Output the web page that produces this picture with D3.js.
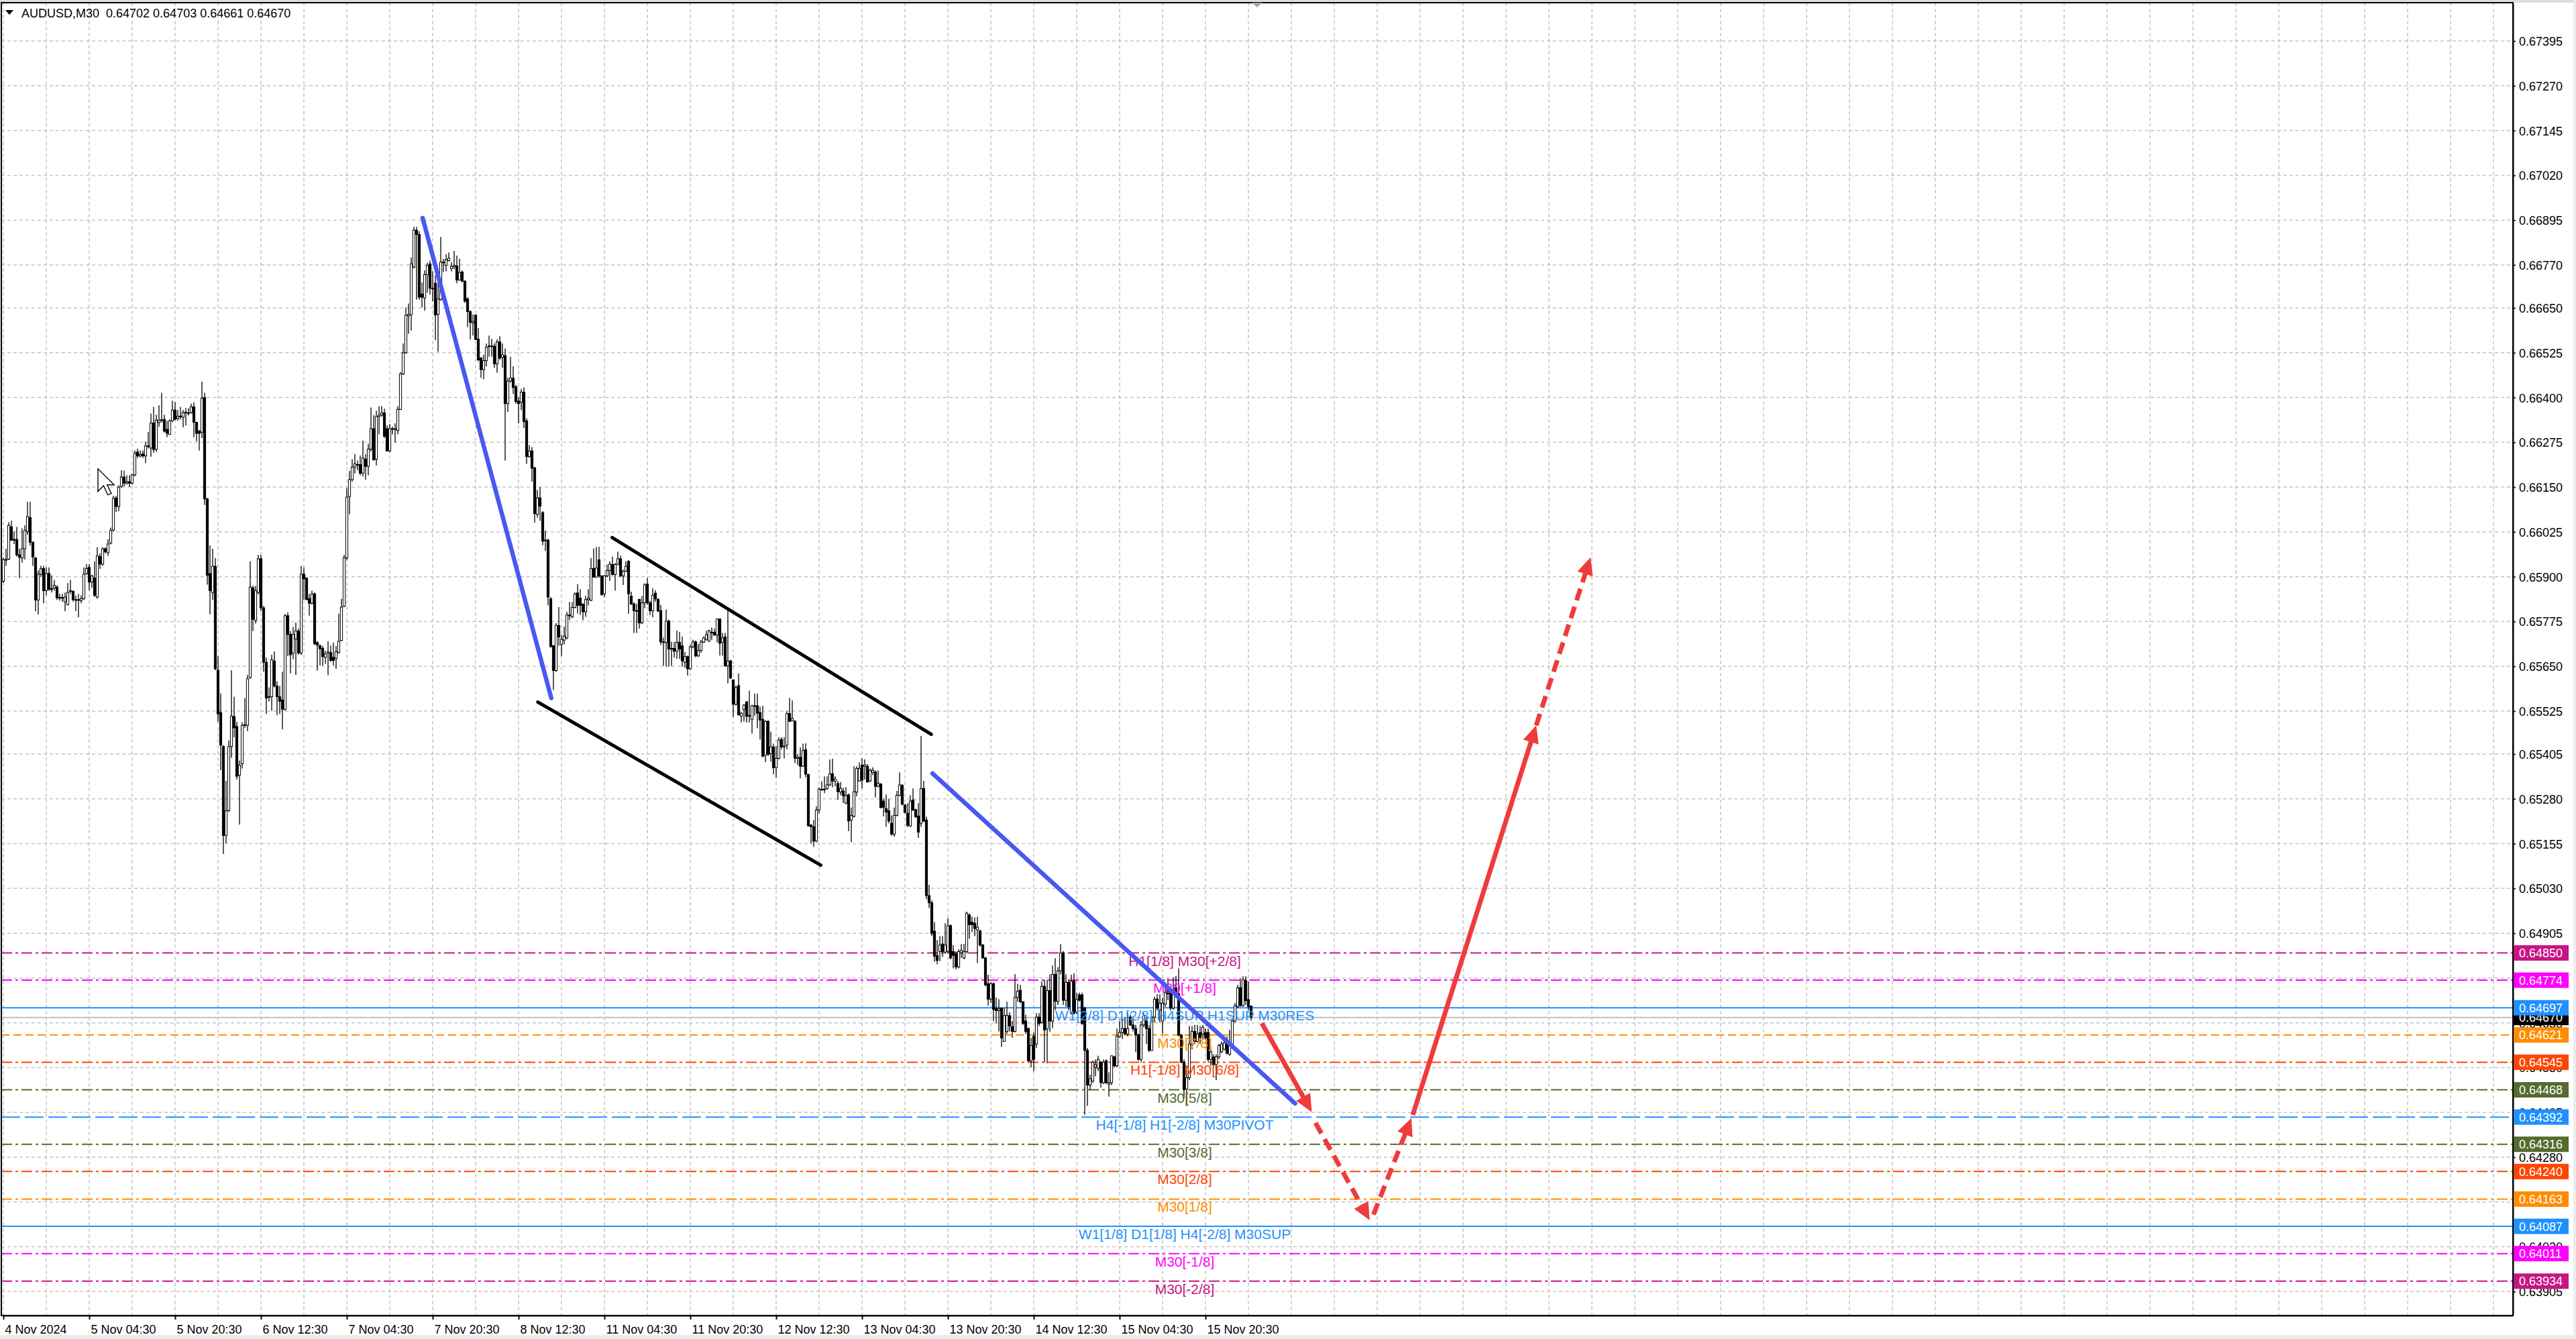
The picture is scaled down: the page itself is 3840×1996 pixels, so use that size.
<!DOCTYPE html>
<html><head><meta charset="utf-8">
<script src="https://cdn.jsdelivr.net/npm/d3@7/dist/d3.min.js"></script>
<style>html,body{margin:0;padding:0;background:#fff;overflow:hidden}svg{display:block}</style>
</head><body>
<svg id="chart" width="3840" height="1996"></svg>
<script>
// ---------------- data ----------------
const chartTitle = "AUDUSD,M30  0.64702 0.64703 0.64661 0.64670";
const timeLabels = ["4 Nov 2024","5 Nov 04:30","5 Nov 20:30","6 Nov 12:30","7 Nov 04:30","7 Nov 20:30","8 Nov 12:30","11 Nov 04:30","11 Nov 20:30","12 Nov 12:30","13 Nov 04:30","13 Nov 20:30","14 Nov 12:30","15 Nov 04:30","15 Nov 20:30"];
const timeLabelBars = [0,32,64,96,128,160,192,224,256,288,320,352,384,416,448];
const priceTicks = [0.67395,0.67270,0.67145,0.67020,0.66895,0.66770,0.66650,0.66525,0.66400,0.66275,0.66150,0.66025,0.65900,0.65775,0.65650,0.65525,0.65405,0.65280,0.65155,0.65030,0.64905,0.64780,0.64655,0.64530,0.64405,0.64280,0.64155,0.64030,0.63905];
// M30 bars: [open, high, low, close] in points (1e-5)
const ohlc = [
[65887,65953,65883,65948],[65948,65978,65930,65946],[65949,66052,65946,66043],[66039,66056,66000,66002],[66004,66026,65991,66002],[66004,66039,65956,65961],[65961,65978,65896,65954],[65952,66035,65939,65978],
[65978,66043,65948,66029],[66026,66109,66017,66068],[66065,66109,65987,65996],[65996,65998,65930,65955],[65952,65955,65804,65835],[65835,65917,65795,65907],[65907,65930,65900,65922],[65923,65930,65826,65861],
[65861,65926,65848,65909],[65909,65926,65860,65865],[65867,65904,65856,65864],[65869,65891,65861,65876],[65871,65876,65835,65841],[65842,65852,65833,65841],[65841,65852,65830,65842],[65830,65856,65804,65843],
[65822,65882,65820,65856],[65860,65891,65852,65861],[65859,65862,65830,65836],[65836,65848,65804,65835],[65835,65852,65787,65836],[65833,65848,65826,65839],[65839,65926,65835,65907],[65909,65935,65905,65923],
[65926,65935,65862,65885],[65885,65905,65869,65902],[65896,65943,65843,65848],[65843,65982,65839,65958],[65956,65965,65922,65935],[65935,65982,65930,65978],[65978,65982,65965,65970],[65967,66004,65958,65991],
[65994,66037,65990,66029],[66030,66126,66026,66119],[66119,66126,66081,66096],[66096,66155,66083,66150],[66152,66197,66148,66178],[66178,66196,66152,66161],[66161,66183,66157,66165],[66165,66183,66150,66161],
[66161,66187,66157,66184],[66184,66252,66180,66245],[66248,66257,66231,66237],[66237,66252,66233,66241],[66243,66252,66231,66237],[66237,66277,66217,66265],[66265,66304,66258,66264],[66259,66355,66235,66329],
[66329,66374,66245,66255],[66255,66352,66248,66337],[66330,66378,66318,66337],[66337,66413,66330,66338],[66339,66352,66303,66306],[66311,66335,66289,66300],[66297,66339,66296,66335],[66335,66391,66332,66365],
[66365,66387,66337,66339],[66342,66365,66335,66348],[66348,66374,66339,66348],[66345,66365,66317,66358],[66358,66370,66322,66359],[66357,66370,66350,66357],[66358,66383,66355,66374],[66374,66387,66289,66331],
[66331,66332,66278,66300],[66306,66310,66252,66300],[66303,66444,66287,66398],[66400,66413,66100,66117],[66117,66120,65878,65904],[65909,65987,65795,65861],[65856,65978,65835,65929],[65929,65952,65639,65643],
[65639,65678,65495,65517],[65521,65574,65360,65430],[65426,65430,65126,65178],[65178,65330,65156,65247],[65247,65443,65243,65426],[65426,65639,65395,65511],[65510,65565,65452,65478],[65482,65495,65334,65343],
[65346,65387,65208,65374],[65378,65494,65365,65485],[65487,65561,65478,65487],[65485,65626,65469,65615],[65619,65943,65615,65871],[65869,65875,65748,65781],[65778,65874,65769,65861],[65856,65961,65850,65950],
[65950,65961,65804,65813],[65813,65819,65635,65661],[65661,65674,65517,65561],[65565,65591,65552,65565],[65565,65682,65526,65668],[65665,65691,65591,65595],[65595,65608,65513,65565],[65565,65595,65517,65552],
[65556,65635,65474,65530],[65530,65796,65526,65791],[65791,65800,65678,65739],[65739,65748,65630,65682],[65687,65760,65670,65739],[65726,65772,65626,65749],[65748,65755,65682,65687],[65687,65930,65682,65907],
[65907,65926,65835,65894],[65896,65898,65835,65836],[65839,65852,65791,65826],[65826,65861,65822,65852],[65852,65856,65709,65713],[65716,65720,65638,65709],[65707,65711,65652,65699],[65700,65707,65652,65677],
[65675,65693,65657,65684],[65687,65720,65625,65690],[65688,65708,65663,65666],[65675,65716,65652,65666],[65672,65707,65643,65691],[65688,65797,65686,65720],[65722,65838,65720,65815],[65817,65961,65815,65953],
[65952,66147,65947,66122],[66124,66195,66074,66171],[66171,66228,66165,66206],[66206,66242,66188,66215],[66213,66224,66197,66213],[66213,66238,66183,66189],[66189,66280,66179,66231],[66228,66242,66171,66208],
[66208,66271,66183,66256],[66256,66372,66249,66313],[66313,66351,66224,66226],[66228,66363,66210,66347],[66347,66376,66297,66351],[66351,66376,66347,66357],[66357,66369,66287,66292],[66313,66322,66249,66251],
[66251,66326,66247,66313],[66313,66319,66297,66313],[66313,66328,66274,66311],[66308,66376,66297,66367],[66367,66471,66365,66466],[66466,66551,66463,66525],[66525,66651,66522,66630],[66628,66662,66578,66632],
[66631,66791,66587,66773],[66764,66876,66760,66867],[66867,66876,66673,66855],[66855,66864,66673,66680],[66689,66721,66651,66680],[66678,66755,66642,66743],[66743,66776,66692,66769],[66773,66782,66687,66705],
[66705,66752,66669,66705],[66719,66741,66560,66630],[66632,66728,66528,66675],[66673,66848,66670,66778],[66778,66787,66750,66777],[66769,66800,66752,66785],[66782,66805,66780,66789],[66760,66778,66752,66766],
[66765,66809,66758,66769],[66767,66796,66719,66728],[66728,66787,66726,66749],[66750,66755,66721,66725],[66725,66727,66664,66669],[66675,66680,66596,66640],[66640,66643,66562,66610],[66608,66632,66573,66612],
[66630,66632,66560,66562],[66563,66594,66501,66505],[66510,66513,66455,66478],[66478,66519,66451,66503],[66503,66551,66487,66540],[66542,66573,66514,66544],[66544,66564,66514,66543],[66543,66551,66483,66494],
[66494,66562,66469,66555],[66555,66571,66505,66510],[66512,66551,66483,66519],[66517,66537,66224,66383],[66383,66456,66360,66446],[66446,66514,66442,66454],[66454,66487,66410,66428],[66430,66435,66383,66389],
[66390,66401,66328,66383],[66387,66424,66365,66415],[66415,66428,66315,66333],[66335,66342,66215,66235],[66235,66267,66232,66251],[66251,66262,66165,66203],[66204,66206,66051,66076],[66074,66142,66065,66120],
[66120,66150,66056,66097],[66079,66083,65988,65999],[66002,66029,65972,66002],[66002,66006,65820,65843],[65838,65843,65702,65705],[65707,65710,65584,65638],[65638,65770,65634,65764],[65764,65815,65707,65732],
[65711,65738,65679,65725],[65723,65761,65711,65734],[65729,65802,65725,65793],[65793,65829,65779,65793],[65788,65829,65784,65814],[65814,65856,65812,65852],[65855,65879,65797,65820],[65840,65865,65793,65820],
[65823,65826,65779,65802],[65802,65847,65788,65836],[65836,65865,65820,65840],[65834,65952,65832,65923],[65923,65979,65897,65899],[65899,65983,65897,65924],[65947,65983,65897,65902],[65902,65904,65847,65850],
[65852,65905,65843,65902],[65902,65934,65899,65917],[65917,65943,65888,65935],[65934,65956,65903,65906],[65906,65938,65861,65934],[65935,65970,65932,65950],[65950,65959,65899,65902],[65902,65920,65877,65915],
[65915,65943,65913,65929],[65943,65946,65797,65852],[65846,65858,65821,65824],[65824,65828,65743,65805],[65805,65824,65743,65804],[65837,65837,65755,65771],[65771,65846,65768,65827],[65827,65882,65812,65877],
[65879,65896,65821,65827],[65827,65833,65793,65805],[65805,65868,65787,65848],[65854,65862,65830,65838],[65837,65840,65802,65804],[65805,65821,65709,65718],[65718,65730,65651,65716],[65716,65808,65649,65776],
[65776,65780,65649,65698],[65698,65718,65651,65700],[65700,65718,65674,65692],[65692,65750,65671,65717],[65717,65746,65671,65698],[65707,65733,65649,65665],[65661,65690,65646,65677],[65677,65680,65624,65643],
[65643,65710,65640,65704],[65704,65724,65700,65718],[65718,65722,65675,65679],[65679,65712,65676,65694],[65694,65724,65688,65718],[65717,65733,65715,65729],[65724,65749,65722,65738],[65720,65752,65718,65749],
[65745,65758,65724,65745],[65745,65755,65735,65737],[65737,65783,65717,65782],[65782,65783,65680,65714],[65717,65743,65680,65729],[65732,65743,65649,65651],[65651,65808,65602,65665],[65665,65668,65615,65617],
[65612,65612,65509,65544],[65544,65596,65540,65591],[65596,65630,65512,65515],[65511,65522,65493,65519],[65529,65544,65496,65542],[65551,65552,65493,65510],[65513,65582,65493,65513],[65502,65542,65462,65540],
[65540,65574,65512,65540],[65540,65574,65477,65519],[65521,65537,65446,65500],[65502,65540,65396,65399],[65402,65500,65382,65496],[65496,65500,65400,65404],[65406,65468,65384,65425],[65425,65434,65349,65367],
[65367,65427,65340,65393],[65393,65452,65390,65444],[65446,65452,65418,65425],[65427,65452,65393,65427],[65430,65525,65418,65518],[65518,65562,65496,65496],[65498,65555,65496,65504],[65497,65499,65380,65393],
[65393,65405,65374,65396],[65396,65424,65337,65371],[65371,65434,65369,65415],[65417,65435,65340,65349],[65348,65350,65202,65205],[65207,65209,65155,65202],[65202,65221,65146,65162],[65162,65259,65159,65249],
[65249,65312,65240,65307],[65307,65329,65302,65307],[65307,65343,65296,65307],[65309,65343,65305,65319],[65319,65390,65316,65350],[65350,65392,65312,65330],[65329,65343,65315,65335],[65323,65330,65277,65300],
[65299,65327,65290,65309],[65302,65311,65268,65288],[65268,65313,65265,65290],[65291,65295,65190,65218],[65221,65256,65159,65234],[65231,65371,65228,65300],[65299,65371,65287,65365],[65330,65382,65328,65365],
[65374,65393,65309,65332],[65371,65390,65334,65375],[65371,65377,65325,65327],[65330,65365,65327,65360],[65354,65368,65346,65360],[65355,65359,65284,65315],[65315,65359,65312,65324],[65321,65324,65253,65256],
[65274,65280,65231,65256],[65253,65292,65202,65243],[65247,65280,65212,65218],[65212,65234,65177,65182],[65181,65256,65174,65234],[65234,65302,65231,65290],[65290,65354,65287,65319],[65318,65321,65262,65265],
[65263,65265,65240,65242],[65240,65268,65202,65206],[65204,65290,65202,65274],[65277,65309,65246,65249],[65250,65252,65227,65230],[65232,65268,65171,65187],[65212,65455,65202,65309],[65309,65330,65215,65218],
[65221,65230,65000,65010],[65010,65040,64975,64990],[64990,64997,64897,64904],[64911,64936,64825,64841],[64843,64886,64818,64829],[64854,64897,64827,64872],[64875,64897,64839,64854],[64852,64933,64847,64872],
[64854,64947,64850,64926],[64926,64930,64832,64836],[64854,64872,64807,64843],[64847,64854,64804,64811],[64811,64861,64807,64854],[64850,64875,64836,64857],[64836,64875,64832,64854],[64854,64965,64850,64961],
[64956,64960,64890,64929],[64936,64951,64908,64929],[64933,64949,64897,64918],[64914,64951,64822,64922],[64911,64915,64868,64872],[64872,64875,64834,64836],[64836,64839,64757,64761],[64764,64789,64703,64721],
[64721,64768,64710,64764],[64764,64768,64660,64692],[64696,64725,64653,64689],[64689,64721,64631,64694],[64696,64696,64588,64613],[64603,64696,64603,64675],[64631,64714,64624,64676],[64675,64685,64631,64646],
[64644,64660,64613,64631],[64631,64791,64628,64726],[64726,64764,64714,64743],[64746,64761,64710,64714],[64714,64714,64649,64653],[64660,64678,64624,64631],[64639,64642,64545,64549],[64549,64613,64531,64592],
[64617,64628,64520,64553],[64596,64682,64585,64671],[64671,64682,64646,64653],[64656,64771,64653,64757],[64757,64775,64545,64635],[64638,64775,64542,64745],[64745,64790,64630,64660],[64660,64815,64640,64790],
[64790,64835,64690,64715],[64715,64810,64705,64800],[64800,64875,64790,64850],[64850,64855,64705,64718],[64718,64790,64700,64768],[64768,64775,64690,64700],[64682,64789,64678,64771],[64771,64793,64678,64682],
[64685,64739,64680,64720],[64733,64739,64714,64718],[64733,64739,64649,64653],[64696,64700,64398,64578],[64578,64585,64423,64481],[64481,64510,64467,64499],[64492,64549,64488,64545],[64531,64553,64506,64538],
[64528,64563,64520,64553],[64545,64549,64474,64488],[64488,64553,64484,64545],[64549,64553,64484,64488],[64484,64517,64449,64488],[64488,64563,64481,64563],[64560,64563,64531,64535],[64535,64639,64531,64617],
[64617,64660,64613,64628],[64628,64667,64610,64639],[64639,64671,64621,64624],[64624,64682,64617,64639],[64671,64678,64646,64649],[64649,64667,64631,64639],[64639,64649,64574,64621],[64621,64625,64549,64553],
[64553,64660,64545,64649],[64649,64682,64642,64674],[64660,64671,64596,64639],[64639,64649,64574,64578],[64578,64674,64578,64671],[64671,64728,64656,64721],[64721,64735,64689,64696],[64690,64735,64656,64710],
[64660,64725,64624,64710],[64707,64768,64700,64739],[64750,64779,64718,64736],[64739,64753,64689,64696],[64696,64782,64692,64746],[64753,64786,64725,64736],[64736,64807,64617,64621],[64621,64624,64542,64545],
[64545,64553,64445,64470],[64470,64524,64423,64502],[64502,64646,64495,64596],[64592,64646,64581,64631],[64631,64649,64596,64603],[64603,64649,64600,64624],[64628,64646,64596,64613],[64624,64649,64610,64642],
[64628,64639,64606,64613],[64628,64639,64545,64553],[64553,64588,64535,64574],[64560,64567,64531,64538],[64538,64567,64495,64560],[64560,64596,64553,64592],[64574,64603,64570,64596],[64581,64613,64578,64599],
[64596,64617,64567,64570],[64567,64635,64563,64596],[64596,64667,64592,64660],[64660,64710,64656,64703],[64700,64761,64696,64753],[64753,64779,64700,64703],[64703,64785,64700,64775],[64773,64785,64705,64717],
[64720,64770,64690,64700],[64702,64703,64661,64670]
];
const levelPrices = [0.64850,0.64774,0.64697,0.64621,0.64545,0.64468,0.64392,0.64316,0.64240,0.64163,0.64087,0.64011,0.63934];
const levelNames = ["H1[1/8] M30[+2/8]","M30[+1/8]","W1[2/8] D1[2/8] H4SUP H1SUP M30RES","M30[7/8]","H1[-1/8] M30[6/8]","M30[5/8]","H4[-1/8] H1[-2/8] M30PIVOT","M30[3/8]","M30[2/8]","M30[1/8]","W1[1/8] D1[1/8] H4[-2/8] M30SUP","M30[-1/8]","M30[-2/8]"];
const bidPrice = 0.64670;
// drawn objects: endpoints as [bar index, price]
const blueLines = [[[156.25,0.66901],[204.2,0.65561]],[[346.25,0.65351],[481.4,0.64430]]];
const channelLines = [[[226.9,0.66009],[345.8,0.65460]],[[199.2,0.65550],[304.6,0.65095]]];
const redArrows = [
  {from:[469,0.64654], to:[487.6,0.64406], dashed:false},
  {from:[489,0.64376], to:[509.2,0.64104], dashed:true},
  {from:[510.6,0.64120], to:[524.75,0.64389], dashed:true},
  {from:[525.25,0.64398], to:[571.25,0.65485], dashed:false},
  {from:[571.25,0.65485], to:[591.5,0.65954], dashed:true}
];
const cursorAt = [35.25, 0.66201];
// ---------------- styles ----------------
const levelColors = ["#C71585","#FF00FF","#1E90FF","#FF8C00","#FF4500","#556B2F","#1E90FF","#556B2F","#FF4500","#FF8C00","#1E90FF","#FF00FF","#C71585"];
const levelDash = ["16,5,4,5","16,5,4,5",null,"12,6","16,5,4,5","16,5,4,5","28,7","16,5,4,5","16,5,4,5","16,5,4,5",null,"16,5,4,5","16,5,4,5"];
const FONT = "'Liberation Sans', Arial, sans-serif";

// ---------------- drawing ----------------
const W = 3840, H = 1996;
const plotL = 2, plotT = 4, plotR = 3746, plotB = 1961;
const svg = d3.select("#chart");
const x = d3.scaleLinear().domain([0, 935.25]).range([5, 3746]);
const y = d3.scaleLinear().domain([0.63840, 0.675]).range([1960, 5]);

svg.append("rect").attr("width", W).attr("height", H).attr("fill", "#ffffff");
// window chrome
svg.append("rect").attr("x",0).attr("y",0).attr("width",W).attr("height",plotT).attr("fill","#dcdcdc");
svg.append("rect").attr("x",0).attr("y",1990).attr("width",W).attr("height",6).attr("fill","#ececec");
svg.append("rect").attr("x",3836).attr("y",0).attr("width",4).attr("height",H).attr("fill","#ececec");

const defs = svg.append("defs");
defs.append("clipPath").attr("id","plotclip").append("rect")
  .attr("x",plotL).attr("y",plotT).attr("width",plotR-plotL).attr("height",plotB-plotT);

const plot = svg.append("g").attr("clip-path","url(#plotclip)");

// grid
const gridX = d3.range(0, 935, 16);
plot.append("g").selectAll("line").data(gridX).join("line")
  .attr("x1", d => x(d)).attr("x2", d => x(d)).attr("y1", plotT).attr("y2", plotB)
  .attr("stroke", "#c4c4c4").attr("stroke-width", 1.5).attr("stroke-dasharray", "5,4");
plot.append("g").selectAll("line").data(priceTicks).join("line")
  .attr("x1", plotL).attr("x2", plotR).attr("y1", d => y(d)).attr("y2", d => y(d))
  .attr("stroke", "#c4c4c4").attr("stroke-width", 1.5).attr("stroke-dasharray", "5,4");

// level lines
plot.append("g").selectAll("line").data(levelPrices).join("line")
  .attr("x1", plotL).attr("x2", plotR).attr("y1", d => y(d)).attr("y2", d => y(d))
  .attr("stroke", (d,i) => levelColors[i]).attr("stroke-width", 2)
  .attr("stroke-dasharray", (d,i) => levelDash[i]);
// bid line
plot.append("line").attr("x1", plotL).attr("x2", plotR).attr("y1", y(bidPrice)).attr("y2", y(bidPrice))
  .attr("stroke", "#c0c0c0").attr("stroke-width", 2);

// candles
const bars = ohlc.map((d, i) => ({ i, o: d[0]/1e5, h: Math.max(d[0],d[1],d[3])/1e5, l: Math.min(d[0],d[2],d[3])/1e5, c: d[3]/1e5 }));
const cg = plot.append("g");
cg.selectAll("line").data(bars).join("line")
  .attr("x1", d => x(d.i)).attr("x2", d => x(d.i))
  .attr("y1", d => y(d.h)).attr("y2", d => y(d.l))
  .attr("stroke", "#000").attr("stroke-width", 1.3);
cg.selectAll("rect").data(bars).join("rect")
  .attr("x", d => x(d.i) - 1.6).attr("width", 3.2)
  .attr("y", d => y(Math.max(d.o, d.c)))
  .attr("height", d => Math.max(1, Math.abs(y(d.o) - y(d.c))))
  .attr("fill", d => d.c >= d.o ? "#ffffff" : "#000000")
  .attr("stroke", "#000").attr("stroke-width", 1);

// level labels
plot.append("g").selectAll("text").data(levelPrices).join("text")
  .attr("x", x(440.25)).attr("y", d => y(d) + 19)
  .attr("text-anchor", "middle").attr("font-family", FONT).attr("font-size", 21)
  .attr("fill", (d,i) => levelColors[i]).text((d,i) => levelNames[i]);

// blue trend lines
plot.append("g").selectAll("line").data(blueLines).join("line")
  .attr("x1", d => x(d[0][0])).attr("y1", d => y(d[0][1]))
  .attr("x2", d => x(d[1][0])).attr("y2", d => y(d[1][1]))
  .attr("stroke", "#4858F0").attr("stroke-width", 6.5).attr("stroke-linecap", "round");
// channel
plot.append("g").selectAll("line").data(channelLines).join("line")
  .attr("x1", d => x(d[0][0])).attr("y1", d => y(d[0][1]))
  .attr("x2", d => x(d[1][0])).attr("y2", d => y(d[1][1]))
  .attr("stroke", "#000").attr("stroke-width", 5).attr("stroke-linecap", "round");

// red arrows
const RED = "#EF3B3B";
const ag = plot.append("g");
redArrows.forEach(a => {
  const x1 = x(a.from[0]), y1 = y(a.from[1]), x2 = x(a.to[0]), y2 = y(a.to[1]);
  const ang = Math.atan2(y2 - y1, x2 - x1);
  const hl = 26, hw = 12;
  const bx = x2 - hl * Math.cos(ang), by = y2 - hl * Math.sin(ang);
  ag.append("line").attr("x1", x1).attr("y1", y1).attr("x2", bx + 4*Math.cos(ang)).attr("y2", by + 4*Math.sin(ang))
    .attr("stroke", RED).attr("stroke-width", 7).attr("stroke-dasharray", a.dashed ? "18,10" : null);
  const px = -Math.sin(ang), py = Math.cos(ang);
  ag.append("path")
    .attr("d", `M${x2},${y2}L${bx + hw*px},${by + hw*py}L${bx - hw*px},${by - hw*py}Z`)
    .attr("fill", RED);
});

// mouse cursor
const cx0 = x(cursorAt[0]), cy0 = y(cursorAt[1]), cs = 2.1;
const cur = [[0,0],[0,16],[4,12],[7,18.5],[9.5,17.5],[6.6,11.4],[11.5,11.4]];
svg.append("path").attr("d", "M" + cur.map(p => [cx0 + p[0]*cs, cy0 + p[1]*cs].join(",")).join("L") + "Z")
  .attr("fill", "#fff").attr("stroke", "#000").attr("stroke-width", 1.4);

// frame
svg.append("rect").attr("x", plotL).attr("y", plotT).attr("width", plotR - plotL).attr("height", plotB - plotT)
  .attr("fill", "none").attr("stroke", "#000").attr("stroke-width", 2);

// price axis
const yAxis = d3.axisRight(y).tickValues(priceTicks).tickFormat(d3.format(".5f")).tickSize(4).tickPadding(5).tickSizeOuter(0);
const ya = svg.append("g").attr("transform", `translate(${plotR},0)`).call(yAxis);
ya.select(".domain").attr("stroke", "#000").attr("stroke-width", 2);
ya.selectAll("text").attr("font-family", FONT).attr("font-size", 18).attr("fill", "#000").attr("dy", "0.36em");
ya.selectAll(".tick line").attr("stroke", "#000").attr("stroke-width", 1.5);

// time axis
const xAxis = d3.axisBottom(x).tickValues(timeLabelBars).tickFormat((d, i) => timeLabels[i]).tickSize(6).tickPadding(8).tickSizeOuter(0);
const xa = svg.append("g").attr("transform", `translate(0,${plotB})`).call(xAxis);
xa.select(".domain").attr("stroke", "#000").attr("stroke-width", 2);
xa.selectAll("text").attr("font-family", FONT).attr("font-size", 18).attr("fill", "#000").attr("text-anchor", "start").attr("dx", 2);
xa.selectAll(".tick line").attr("stroke", "#000").attr("stroke-width", 2);

// bid box (black), then level boxes
const boxX = plotR + 1, boxW = 82, boxH = 23;
svg.append("rect").attr("x", boxX).attr("y", y(bidPrice) - boxH/2).attr("width", boxW).attr("height", boxH).attr("fill", "#000");
svg.append("text").attr("x", boxX + 8).attr("y", y(bidPrice) + 6.5).attr("font-family", FONT).attr("font-size", 18)
  .attr("fill", "#fff").text(d3.format(".5f")(bidPrice));
const lb = svg.append("g").selectAll("g").data(levelPrices).join("g");
lb.append("rect").attr("x", boxX).attr("y", d => y(d) - boxH/2).attr("width", boxW).attr("height", boxH)
  .attr("fill", (d,i) => levelColors[i]);
lb.append("text").attr("x", boxX + 8).attr("y", d => y(d) + 6.5).attr("font-family", FONT).attr("font-size", 18)
  .attr("fill", "#fff").text(d => d3.format(".5f")(d));

// title
svg.append("path").attr("d", "M8,15L20,15L14,22Z").attr("fill", "#000");
svg.append("text").attr("x", 32).attr("y", 26).attr("font-family", FONT).attr("font-size", 18)
  .attr("fill", "#000").attr("xml:space", "preserve").style("white-space", "pre").text(chartTitle);
// chart shift marker
svg.append("path").attr("d", "M1866,4L1882,4L1874,11Z").attr("fill", "#a8a8a8");
</script>
</body></html>
